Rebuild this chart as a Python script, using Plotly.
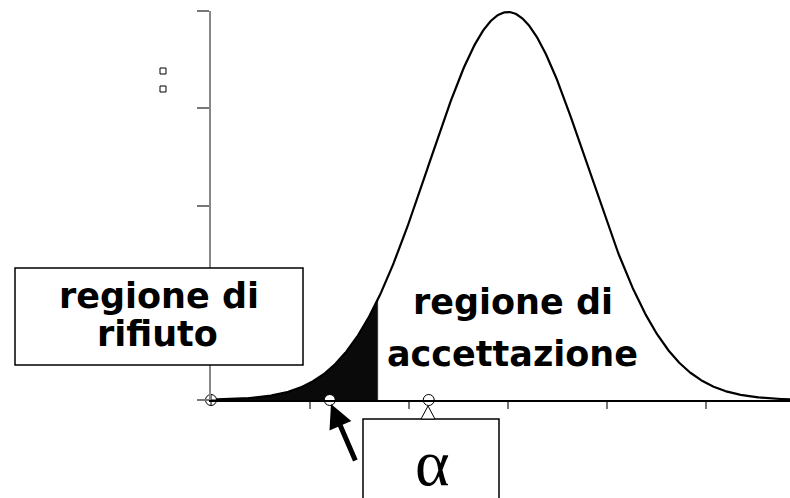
import numpy as np
import plotly.graph_objects as go

# Distribution and test settings
MEAN = 0.0
SD = 0.8
Z_CRIT = -1.645            # one-sided lower critical value for alpha = 0.05
X_MIN, X_MAX = -3.0, 2.85
x_ticks = [-2, -1, 0, 1, 2]
y_ticks = [0, 0.125, 0.25, 0.375, 0.5]
point_x = [-1.8, -0.8]     # open points on the baseline
origin_x = [-3.0]

label_reject = ["regione di", "rifiuto"]
label_accept = ["regione di", "accettazione"]
label_alpha = "α"

# Density curve
xs = np.linspace(X_MIN, X_MAX, 600)
pdf = np.exp(-0.5 * ((xs - MEAN) / SD) ** 2) / (SD * np.sqrt(2 * np.pi))
x_crit = MEAN + Z_CRIT * SD
tail_x = np.linspace(X_MIN, x_crit, 300)
tail_y = np.exp(-0.5 * ((tail_x - MEAN) / SD) ** 2) / (SD * np.sqrt(2 * np.pi))

W, H = 790, 498
L, R, T, B = 211, 0, 11, 98
PW, PH = W - L - R, H - T - B


def px(x):
    return (x - L) / PW


def py(y):
    return (H - B - y) / PH


fig = go.Figure()

# Shaded rejection tail
fig.add_trace(go.Scatter(
    x=np.concatenate([[X_MIN], tail_x, [x_crit]]),
    y=np.concatenate([[0], tail_y, [0]]),
    fill="toself", fillcolor="#0a0a0a", mode="lines",
    line=dict(color="#0a0a0a", width=0.5), hoverinfo="skip",
))

# Curve
fig.add_trace(go.Scatter(
    x=xs, y=pdf, mode="lines",
    line=dict(color="black", width=2.2), hoverinfo="skip",
))

# Baseline points
fig.add_trace(go.Scatter(
    x=origin_x, y=[0] * len(origin_x), mode="markers", cliponaxis=False,
    marker=dict(symbol="circle-cross", size=11, color="white",
                line=dict(color="black", width=1)),
))
fig.add_trace(go.Scatter(
    x=point_x, y=[0] * len(point_x), mode="markers", cliponaxis=False,
    marker=dict(symbol="circle", size=11, color="white",
                line=dict(color="black", width=1)),
))

shapes = []
# Rejection region box
shapes.append(dict(type="rect", xref="paper", yref="paper",
                   x0=px(15), x1=px(303), y0=py(365), y1=py(268),
                   line=dict(color="black", width=1.5), fillcolor="white",
                   layer="above"))
# Alpha box (open at the bottom edge of the page)
shapes.append(dict(type="rect", xref="paper", yref="paper",
                   x0=px(363), x1=px(499), y0=py(505), y1=py(419),
                   line=dict(color="black", width=1.5), fillcolor="white",
                   layer="above"))
# Small pointer triangle above the alpha box
shapes.append(dict(type="path", xref="paper", yref="paper",
                   path=f"M {px(428)},{py(406)} L {px(421)},{py(419)} L {px(435)},{py(419)} Z",
                   line=dict(color="black", width=1), fillcolor="white",
                   layer="above"))
# Two small squares
for yy in (71, 89):
    shapes.append(dict(type="rect", xref="paper", yref="paper",
                       x0=px(160), x1=px(166), y0=py(yy + 3), y1=py(yy - 3),
                       line=dict(color="black", width=1), fillcolor="white"))

font_txt = dict(family="Comic Sans MS, DejaVu Sans", size=35, color="black",
                weight="bold")
annotations = [
    dict(x=px(159), y=py(296), text=label_reject[0]),
    dict(x=px(157), y=py(334), text=label_reject[1]),
    dict(x=px(513), y=py(302), text=label_accept[0]),
    dict(x=px(512), y=py(354), text=label_accept[1]),
]
for a in annotations:
    a.update(xref="paper", yref="paper", showarrow=False, font=font_txt,
             xanchor="center", yanchor="middle", height=38)

annotations.append(dict(
    x=px(432), y=py(462), xref="paper", yref="paper", text=label_alpha,
    showarrow=False, xanchor="center", yanchor="middle",
    font=dict(family="Liberation Serif, DejaVu Serif", size=66, color="black"),
))
# Arrow pointing at the critical region
annotations.append(dict(
    x=px(331), y=py(404), xref="paper", yref="paper", text="",
    showarrow=True, ax=25, ay=58, arrowhead=2, arrowsize=0.95,
    arrowwidth=5, arrowcolor="black", standoff=0,
))

fig.update_layout(
    width=W, height=H,
    margin=dict(l=L, r=R, t=T, b=B),
    paper_bgcolor="white", plot_bgcolor="white",
    showlegend=False,
    shapes=shapes, annotations=annotations,
    xaxis=dict(range=[X_MIN, X_MAX], showgrid=False, zeroline=False,
               showline=True, linecolor="black", linewidth=2,
               tickvals=x_ticks, ticks="outside", ticklen=7, tickwidth=1.5,
               tickcolor="#777", showticklabels=False),
    yaxis=dict(range=[0, 0.5], showgrid=False, zeroline=False,
               showline=True, linecolor="#888", linewidth=2,
               tickvals=y_ticks, ticks="outside", ticklen=12, tickwidth=1.5,
               tickcolor="#777", showticklabels=False),
)

fig.write_html("out.html")
